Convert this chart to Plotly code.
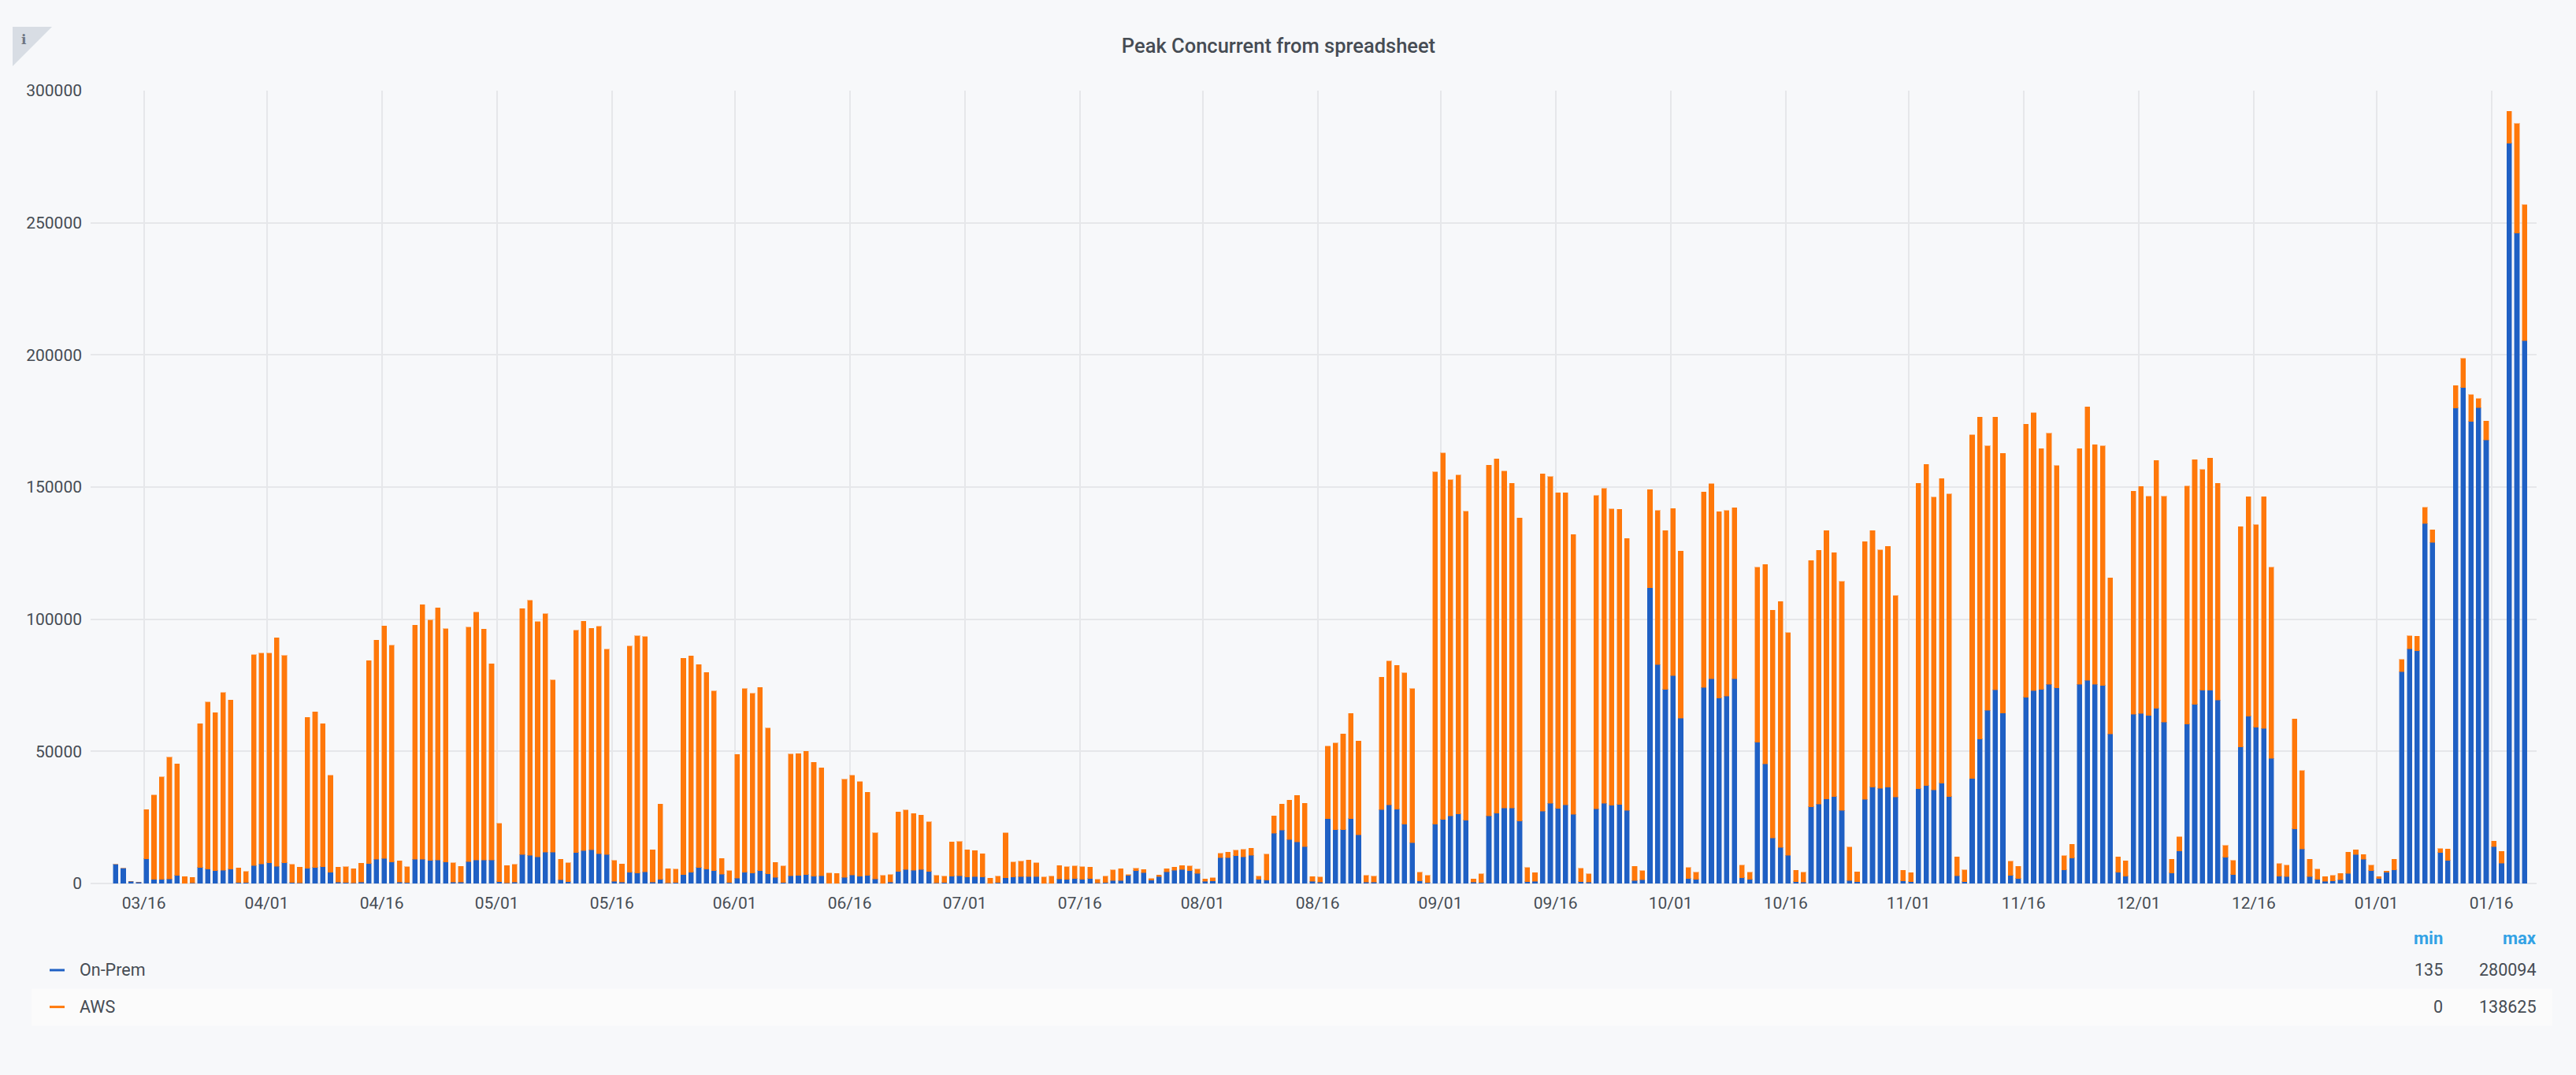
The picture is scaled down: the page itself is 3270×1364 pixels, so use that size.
import pandas as pd
import plotly.graph_objects as go

START_DATE = "2020-03-12"
on_prem = [
    7300, 5700, 800, 500,
    9300, 1500, 1500, 1700, 3000, 135, 200,
    6000, 5400, 4900, 5000, 5500, 300, 400,
    6800, 7400, 7800, 6500, 7800, 400, 200,
    5700, 6000, 6300, 4200, 500, 300, 200,
    500, 7500, 9200, 9400, 8200, 500, 300,
    9200, 9100, 8700, 8900, 8100, 500, 500,
    8300, 8900, 8900, 8900, 700, 200, 500,
    11000, 10600, 10000, 11900, 11900, 1400, 600,
    11700, 12500, 12700, 11300, 11000, 800, 500,
    4200, 3900, 4400, 500, 1500, 200, 300,
    3300, 4200, 6000, 5400, 4800, 3500, 300,
    2000, 4200, 3900, 4800, 3700, 2300, 300,
    2900, 3000, 3300, 2700, 2900, 150, 150,
    2300, 3200, 2800, 3000, 1700, 150, 500,
    4500, 5300, 5000, 5300, 4500, 200, 400,
    2700, 2900, 2400, 2600, 2400, 150, 400,
    2100, 2400, 2600, 2600, 2600, 150, 150,
    1700, 1600, 1800, 1500, 1800, 200, 400,
    1100, 1100, 3000, 4800, 4100, 1200, 2600,
    4400, 5000, 5300, 4800, 3800, 800, 900,
    9700, 9700, 10500, 10000, 10600, 1500, 1200,
    19000, 20200, 16700, 15700, 13900, 800, 500,
    24500, 20300, 20300, 24500, 18400, 500, 500,
    27900, 29700, 28100, 22400, 15500, 900, 300,
    22500, 24200, 25600, 26300, 23900, 500, 300,
    25500, 26600, 28500, 28500, 23600, 600, 800,
    27400, 30400, 28400, 29800, 26200, 600, 500,
    28300, 30300, 29600, 29900, 27600, 1100, 1400,
    111900, 82800, 73400, 78700, 62600, 1900, 1500,
    74200, 77500, 70100, 70900, 77500, 2200, 1500,
    53500, 45200, 17200, 13600, 10600, 600, 500,
    29000, 30000, 32000, 32900, 27600, 1100, 600,
    31800, 36400, 36000, 36400, 32700, 1000, 600,
    35900, 37100, 35400, 38000, 32900, 2900, 600,
    39700, 54700, 65600, 73300, 64500, 3000, 1800,
    70500, 73000, 73400, 75300, 74100, 5100, 9600,
    75300, 76800, 75300, 75000, 56600, 4300, 2700,
    64000, 64300, 63600, 66300, 61100, 3900, 12300,
    60300, 67800, 73100, 73100, 69400, 9900, 3400,
    51600, 63300, 59100, 58700, 47400, 2800, 2600,
    20600, 13000, 2600, 1600, 800, 1000, 1400,
    3800, 10900, 9100, 4900, 1800, 4200, 5100,
    80100, 88800, 88000, 136200, 129100, 11700, 8700,
    179900, 187600, 174800, 180100, 167800, 14000, 7700,
    280094, 246100, 205400,
]
stack_top = [
    7300, 5700, 800, 500,
    28000, 33500, 40300, 47800, 45200, 2600, 2300,
    60400, 68600, 64600, 72300, 69400, 5900, 4500,
    86500, 87200, 87200, 92900, 86200, 7200, 6200,
    62900, 64900, 60500, 41000, 6200, 6400, 5600,
    7700, 84300, 92100, 97400, 90200, 8600, 6400,
    97800, 105500, 99700, 104300, 96400, 7900, 6500,
    97000, 102600, 96200, 83200, 22700, 6800, 7200,
    104000, 107200, 99100, 102000, 77000, 9100, 7900,
    95800, 99300, 96600, 97300, 88600, 8700, 7400,
    89900, 93700, 93400, 12700, 30000, 5600, 5400,
    85200, 86100, 82800, 79900, 72900, 9500, 4800,
    48900, 73700, 71900, 74200, 58800, 8000, 6700,
    49000, 49100, 50100, 45800, 43700, 4000, 3800,
    39500, 41000, 38500, 34500, 19200, 3000, 3400,
    27000, 27800, 26500, 25800, 23300, 3000, 2800,
    15700, 15900, 12700, 12500, 11200, 2000, 2700,
    19200, 8200, 8500, 8800, 7900, 2500, 2700,
    6800, 6400, 6700, 6400, 6200, 1600, 2700,
    5200, 5600, 3400, 5800, 5300, 1900, 3200,
    5600, 6200, 6800, 6700, 5500, 1700, 2200,
    11400, 11800, 12600, 12900, 13300, 2700, 11100,
    25500, 30000, 31500, 33300, 30300, 2600, 2400,
    51900, 53200, 56600, 64400, 53900, 3100, 2700,
    78100, 84100, 82500, 79700, 73700, 4300, 3100,
    155700, 162900, 152700, 154600, 140900, 1700, 3700,
    158300, 160700, 156100, 151400, 138300, 6000, 4100,
    155000, 153900, 147800, 147800, 132000, 5700, 3700,
    146800, 149500, 141800, 141600, 130600, 6500, 4800,
    149100, 141100, 133500, 141900, 125700, 6000, 4200,
    148100, 151200, 140700, 141100, 142200, 7000, 4200,
    119700, 120700, 103400, 106700, 94900, 5000, 4200,
    122200, 126100, 133500, 125200, 114300, 13800, 4400,
    129300, 133500, 126200, 127600, 108900, 5000, 4100,
    151400, 158600, 146200, 153200, 147400, 10000, 5100,
    169700, 176500, 165600, 176500, 162800, 8400, 6500,
    173800, 178100, 164500, 170400, 158100, 10500, 14800,
    164500, 180400, 166000, 165600, 115600, 10000, 8600,
    148500, 150200, 146500, 160100, 146500, 9200, 17700,
    150400, 160300, 156600, 160900, 151400, 14400, 8700,
    135000, 146300, 135800, 146300, 119600, 7500, 6900,
    62300, 42700, 9100, 5500, 2600, 3000, 3800,
    11900, 12700, 10900, 6900, 2600, 4700, 9100,
    84800, 93700, 93500, 142300, 133800, 13200, 13000,
    188400, 198700, 185000, 183500, 175000, 16000, 12100,
    292200, 287600, 256800,
]
aws = [t - o for t, o in zip(stack_top, on_prem)]
dates = pd.date_range(START_DATE, periods=len(on_prem), freq="D")

tick_dates = ["2020-03-16", "2020-04-01", "2020-04-16", "2020-05-01", "2020-05-16", "2020-06-01",
              "2020-06-16", "2020-07-01", "2020-07-16", "2020-08-01", "2020-08-16", "2020-09-01",
              "2020-09-16", "2020-10-01", "2020-10-16", "2020-11-01", "2020-11-16", "2020-12-01",
              "2020-12-16", "2021-01-01", "2021-01-16"]
tick_labels = ["03/16", "04/01", "04/16", "05/01", "05/16", "06/01", "06/16", "07/01", "07/16",
               "08/01", "08/16", "09/01", "09/16", "10/01", "10/16", "11/01", "11/16", "12/01",
               "12/16", "01/01", "01/16"]
y_ticks = [0, 50000, 100000, 150000, 200000, 250000, 300000]
legend_rows = [("On-Prem", "135", "280094"), ("AWS", "0", "138625")]

W, H = 3270, 1364
L, R, T, B = 115, 3220, 115, 1121.5
BG = "#f7f8fa"
TEXT = "#464c54"
GRID = "#e6e7ea"
BLUE = "#1f60c4"
ORANGE = "#ff780a"
HEAD = "#33a2e5"
DAY_MS = 86400000


def xp(px):
    return (px - L) / (R - L)


def yp(px):
    return (B - px) / (B - T)


fig = go.Figure()
for name, vals, col, edge in [("On-Prem", on_prem, BLUE, "rgba(31,96,196,0.45)"),
                              ("AWS", aws, ORANGE, "rgba(255,120,10,0.45)")]:
    fig.add_trace(go.Bar(x=dates, y=vals, name=name, offset=0, width=0.63 * DAY_MS,
                         marker=dict(color=col, line=dict(color=edge, width=1)), showlegend=False))

shapes = [
    dict(type="rect", xref="paper", yref="paper", x0=xp(40), x1=xp(3240), y0=yp(1302), y1=yp(1255),
         fillcolor="#fbfbfb", line_width=0, layer="below"),
    dict(type="path", xref="paper", yref="paper", fillcolor="#d8dde4", line_width=0,
         path=f"M {xp(16)} {yp(34)} L {xp(66)} {yp(34)} L {xp(16)} {yp(84)} Z"),
]
annots = [
    dict(text="<b>i</b>", x=xp(30), y=yp(50), font=dict(family="DejaVu Serif", size=17, color="#6f7682")),
    dict(text="min", x=xp(3103), y=yp(1191), xanchor="right",
         font=dict(size=22, color=HEAD, weight=700)),
    dict(text="max", x=xp(3222), y=yp(1191), xanchor="right",
         font=dict(size=22, color=HEAD, weight=700)),
]
for i, ((label, lo, hi), col) in enumerate(zip(legend_rows, [BLUE, ORANGE])):
    y = 1231.5 + i * 46.7
    shapes.append(dict(type="line", xref="paper", yref="paper", x0=xp(63), x1=xp(82), y0=yp(y), y1=yp(y),
                       line=dict(color=col, width=3)))
    annots.append(dict(text=label, x=xp(99), y=yp(y), xanchor="left", font=dict(size=21.5, color=TEXT)))
    annots.append(dict(text=lo, x=xp(3103), y=yp(y), xanchor="right", font=dict(size=21.5, color=TEXT)))
    annots.append(dict(text=hi, x=xp(3222), y=yp(y), xanchor="right", font=dict(size=21.5, color=TEXT)))
for a in annots:
    a.update(xref="paper", yref="paper", showarrow=False, yanchor="middle")
    a.setdefault("xanchor", "center")

fig.update_layout(
    width=W, height=H, autosize=False,
    margin=dict(l=L, r=W - R, t=T, b=H - B, pad=0),
    paper_bgcolor=BG, plot_bgcolor=BG,
    barmode="stack",
    font=dict(family="Roboto", size=21, color=TEXT),
    title=dict(text="Peak Concurrent from spreadsheet", x=1623 / W, xanchor="center", xref="container",
               y=1 - 58 / H, yanchor="middle", yref="container",
               font=dict(family="Roboto", size=25.5, color=TEXT, weight=500)),
    shapes=shapes, annotations=annots,
    xaxis=dict(type="date", range=["2020-03-09 01:10", "2021-01-21 21:10"],
               tickmode="array", tickvals=tick_dates, ticktext=tick_labels,
               showgrid=True, gridcolor=GRID, gridwidth=2, showline=False, zeroline=False,
               ticks="", ticklabelstandoff=10, tickfont=dict(size=21, color=TEXT)),
    yaxis=dict(range=[0, 300000], tickmode="array", tickvals=y_ticks,
               ticktext=[str(v) for v in y_ticks],
               showgrid=True, gridcolor=GRID, gridwidth=2, showline=False,
               zeroline=True, zerolinecolor=GRID, zerolinewidth=2,
               ticks="", ticklabelstandoff=10, tickfont=dict(size=21, color=TEXT)),
)
fig.write_html("out.html", config={"displayModeBar": False},
               post_script="document.body.style.margin='0';document.body.style.background='%s';" % BG)
